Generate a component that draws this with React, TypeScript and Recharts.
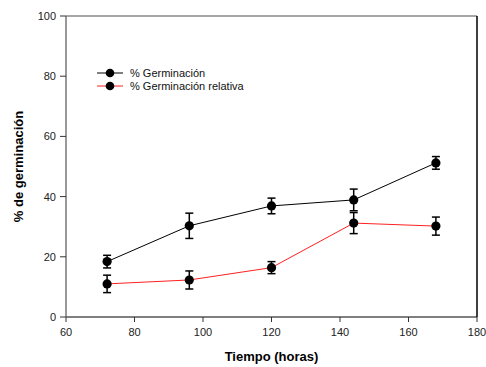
import React from "react";
import { LineChart, Line, XAxis, YAxis, ErrorBar, Label, ReferenceLine } from "recharts";

const hours = [72, 96, 120, 144, 168];
const germination = [18.4, 30.3, 36.9, 38.9, 51.2];
const germinationErr = [2.1, 4.2, 2.6, 3.6, 2.1];
const relative = [11.0, 12.3, 16.4, 31.2, 30.2];
const relativeErr = [2.9, 3.0, 2.0, 3.5, 3.0];
const xTicks = [60, 80, 100, 120, 140, 160, 180];
const yTicks = [0, 20, 40, 60, 80, 100];

const rows = hours.map((h, i) => ({
    hours: h,
    germ: germination[i],
    germErr: germinationErr[i],
    rel: relative[i],
    relErr: relativeErr[i],
}));

const FONT = "'Liberation Sans', Arial, sans-serif";

// legend sits inside the plot, top-left, so it is drawn as an overlay
function LegendBox() {
    const items = [
        { label: "% Germinación", color: "#000000" },
        { label: "% Germinación relativa", color: "#ff2020" },
    ];
    return (
        <div style={{ position: "absolute", left: 97, top: 66, fontFamily: FONT, fontSize: 11, color: "#111" }}>
            {items.map((it) => (
                <div key={it.label} style={{ display: "flex", alignItems: "center", height: 13 }}>
                    <svg width={30} height={12} style={{ marginRight: 3 }}>
                        <line x1={0} y1={6} x2={26} y2={6} stroke={it.color} strokeWidth={1} />
                        <circle cx={13} cy={6} r={4.3} fill="#000" />
                    </svg>
                    <span>{it.label}</span>
                </div>
            ))}
        </div>
    );
}

const dot = { r: 4.6, fill: "#000", stroke: "#000", strokeWidth: 0 };
const tickStyle = { fontSize: 11, fill: "#222", fontFamily: FONT };

export default function App() {
    return (
        <div style={{ position: "absolute", left: 0, top: 0, width: 486, height: 367, background: "#fff" }}>
            <LineChart width={486} height={367} data={rows} margin={{ top: 16, right: 9, bottom: 0, left: 0 }}>
                <XAxis
                    dataKey="hours" type="number" domain={[60, 180]} ticks={xTicks}
                    height={50} tickSize={5} tickMargin={6}
                    axisLine={{ stroke: "#000" }} tickLine={{ stroke: "#333" }}
                    tick={tickStyle}
                >
                    <Label
                        value="Tiempo (horas)" position="insideBottom" offset={6}
                        style={{ fontSize: 13, fontWeight: "bold", fill: "#000", fontFamily: FONT }}
                    />
                </XAxis>
                <YAxis
                    type="number" domain={[0, 100]} ticks={yTicks}
                    width={66} tickSize={6} tickMargin={4}
                    axisLine={{ stroke: "#777", strokeWidth: 1.5 }} tickLine={{ stroke: "#333" }}
                    tick={tickStyle}
                >
                    <Label
                        value="% de germinación" angle={-90} position="insideLeft" offset={18}
                        style={{ textAnchor: "middle", fontSize: 13, fontWeight: "bold", fill: "#000", fontFamily: FONT }}
                    />
                </YAxis>
                {/* frame: top and right edges */}
                <ReferenceLine y={100} stroke="#888" strokeWidth={1.5} />
                <ReferenceLine x={180} stroke="#000" strokeWidth={1.5} />
                <Line
                    dataKey="germ" stroke="#000" strokeWidth={1} dot={dot} activeDot={false}
                    isAnimationActive={false}
                >
                    <ErrorBar dataKey="germErr" width={4} stroke="#000" strokeWidth={1.5} />
                </Line>
                <Line
                    dataKey="rel" stroke="#ff2020" strokeWidth={1} dot={dot} activeDot={false}
                    isAnimationActive={false}
                >
                    <ErrorBar dataKey="relErr" width={4} stroke="#000" strokeWidth={1.5} />
                </Line>
            </LineChart>
            <LegendBox />
        </div>
    );
}
